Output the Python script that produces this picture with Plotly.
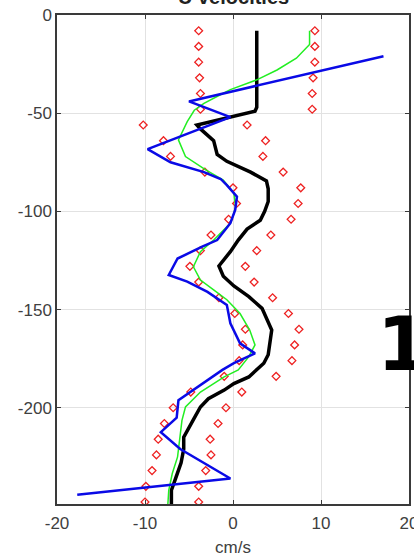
import plotly.graph_objects as go

# Depths (m, negative downward) and velocity bounds (cm/s) sampled every 8 m
bound_depth = [-8, -16, -24, -32, -40, -48, -56, -64, -72, -80, -88, -96, -104, -112, -120,
               -128, -136, -144, -152, -160, -168, -176, -184, -192, -200, -208, -216, -224,
               -232, -240, -248]
lower_bound = [-3.9, -3.9, -3.9, -3.8, -3.7, -3.7, -10.2, -7.9, -7.1, -3.2, 0.0, 0.4, -0.5,
               -2.5, -3.7, -4.9, -3.9, -1.6, 0.2, 1.4, 1.1, 0.7, -1.0, -4.8, -6.8, -7.8, -8.5,
               -8.7, -9.2, -9.9, -10.0]
upper_bound = [9.3, 9.3, 9.3, 9.1, 9.0, 9.0, 1.6, 3.7, 3.4, 5.7, 7.7, 7.4, 6.6, 4.3, 2.7, 1.4,
               2.4, 4.5, 6.3, 7.5, 7.0, 6.7, 4.9, 1.0, -0.8, -1.7, -2.6, -2.5, -3.1, -3.9, -3.9]

# Mean profile
mean_depth = [-8, -40, -47, -49, -56, -58, -64, -71, -74.5, -80, -84.5, -88.5, -95, -100,
              -104.5, -109, -114.6, -120.5, -127.8, -133, -138, -143.4, -149.4, -160.4, -165.5,
              -173, -177.3, -180.7, -184.3, -187.7, -191, -195.4, -199.6, -206, -211.3, -215,
              -221, -228, -237, -242, -249]
mean_u = [2.7, 2.7, 2.7, 2.5, -4.1, -3.7, -2.2, -1.8, -0.7, 2.0, 3.8, 4.0, 4.0, 3.6, 3.1, 1.6,
          0.6, -0.3, -1.6, -1.1, 0.1, 1.8, 3.3, 4.4, 4.2, 4.0, 3.5, 2.7, 1.8, 0.1, -1.0, -2.8,
          -3.7, -4.5, -5.2, -5.6, -5.6, -5.9, -6.6, -7.0, -7.0]

# Green profile
green_depth = [-8, -15, -22, -28, -33, -38, -41, -45, -48.5, -54.3, -63.6, -69.6, -72.1, -78.9,
               -84, -90.8, -97.6, -101, -106, -114.6, -120.5, -128.2, -135, -140, -145, -152,
               -160.4, -168, -174, -180.7, -184.3, -192, -199.6, -206.4, -214.9, -225, -233.5,
               -242, -249]
green_u = [8.7, 8.7, 7.2, 5.0, 2.7, -0.3, -1.6, -3.3, -4.4, -5.2, -6.2, -5.6, -5.4, -3.1, -1.1,
           0.1, 0.3, 0.1, -0.3, -2.2, -3.7, -4.5, -3.7, -2.2, -0.7, 0.8, 1.9, 2.5, 1.8, 0.6,
           -1.0, -3.7, -5.4, -5.8, -6.0, -6.3, -6.9, -7.3, -7.4]

# Blue profile
blue_depth = [-21, -44, -52, -68.3, -75, -80, -83.5, -86.6, -92.5, -99.3, -106, -114.6, -118,
              -124, -132.4, -135.8, -141, -147.7, -157, -167.2, -172.3, -177.3, -180.7, -192,
              -196.2, -205, -212.4, -221, -236, -244.3]
blue_u = [17.1, -5.0, -0.3, -9.7, -7.1, -3.3, -1.4, -0.7, 0.45, 0.25, -0.3, -1.8, -3.5, -6.3,
          -7.3, -5.2, -2.9, -0.7, -0.3, 0.8, 2.5, 0.1, -1.2, -4.8, -6.2, -6.4, -8.2, -6.0,
          -0.3, -17.7]

x_ticks = [-20, -10, 0, 10, 20]
y_ticks = [0, -50, -100, -150, -200]

fig = go.Figure()

bound_marker = dict(symbol="diamond-open", size=6, color="#ee2222", line=dict(width=1.3))
fig.add_trace(go.Scatter(x=lower_bound, y=bound_depth, mode="markers", marker=bound_marker))
fig.add_trace(go.Scatter(x=upper_bound, y=bound_depth, mode="markers", marker=bound_marker))
fig.add_trace(go.Scatter(x=mean_u, y=mean_depth, mode="lines",
                         line=dict(color="#000000", width=3.5)))
fig.add_trace(go.Scatter(x=green_u, y=green_depth, mode="lines",
                         line=dict(color="#22ee22", width=1.5)))
fig.add_trace(go.Scatter(x=blue_u, y=blue_depth, mode="lines",
                         line=dict(color="#0a0ae6", width=2.5)))

axis_common = dict(
    showline=True, linecolor="#3a3a3a", linewidth=1.5, mirror="ticks",
    ticks="inside", ticklen=4, tickcolor="#3a3a3a", tickwidth=1,
    showgrid=True, gridcolor="#e2e2e2", gridwidth=1, zeroline=False,
    ticklabeloverflow="allow", automargin=False,
    tickfont=dict(family="Liberation Sans, Arial", size=17, color="#404040"),
)

fig.update_layout(
    width=414, height=557,
    margin=dict(l=57, r=5, t=15, b=53),
    plot_bgcolor="white", paper_bgcolor="white",
    showlegend=False,
    xaxis=dict(range=[-20, 20], tickvals=x_ticks, ticktext=[str(v) for v in x_ticks],
               ticklabelstandoff=3,
               title=dict(text="cm/s", standoff=14,
                          font=dict(family="Liberation Sans, Arial", size=17, color="#404040")),
               **axis_common),
    yaxis=dict(range=[-249, 0], tickvals=y_ticks, ticktext=[str(v) for v in y_ticks],
               **axis_common),
    annotations=[
        dict(text="<b>U velocities</b>", xref="paper", yref="paper", x=0.5, y=1,
             xanchor="center", yanchor="bottom", yshift=5, showarrow=False,
             font=dict(family="Liberation Sans, Arial", size=20, color="#222222")),
        dict(text="<b>1</b>", xref="paper", yref="paper", x=0.982, y=0.324,
             xanchor="center", yanchor="middle", yshift=2, showarrow=False,
             font=dict(family="DejaVu Sans", size=75, color="#000000")),
    ],
)

fig.write_html("out.html")
